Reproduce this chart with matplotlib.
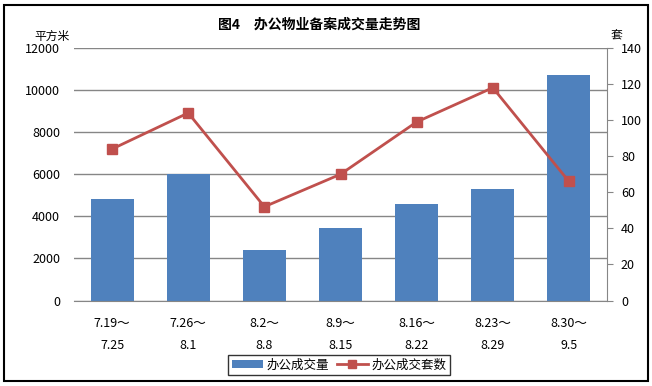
import numpy as np
import matplotlib
matplotlib.use("Agg")
from matplotlib import pyplot as plt
from matplotlib.patches import Patch, Rectangle
from matplotlib.lines import Line2D

plt.rcParams['font.family'] = ['Noto Sans CJK SC', 'DejaVu Sans']

weeks = ["7.19～\n7.25", "7.26～\n8.1", "8.2～\n8.8", "8.9～\n8.15",
         "8.16～\n8.22", "8.23～\n8.29", "8.30～\n9.5"]
area = [4830, 6000, 2380, 3450, 4600, 5300, 10700]   # 办公成交量 (平方米)
units = [84, 104, 52, 70, 99, 118, 66]               # 办公成交套数 (套)

bar_color = '#4F81BD'
line_color = '#C0504D'
grid_color = '#868686'

fig = plt.figure(figsize=(6.52, 3.86), dpi=100)
fig.patches.append(Rectangle((0.006, 0.013), 0.988, 0.975, transform=fig.transFigure,
                             fill=False, edgecolor='black', linewidth=1.5))

ax = fig.add_axes([0.1135, 0.2215, 0.8175, 0.6541])
x = np.arange(len(weeks))
ax.bar(x, area, width=0.565, color=bar_color, zorder=2)
ax.set_xlim(-0.5, len(weeks) - 0.5)
ax.set_ylim(0, 12000)
ax.set_yticks(np.arange(0, 12001, 2000))
ax.yaxis.grid(True, color=grid_color, linewidth=1)
ax.set_axisbelow(True)
for s in ['top', 'left', 'right']:
    ax.spines[s].set_visible(False)
ax.spines['bottom'].set_color(grid_color)
ax.tick_params(axis='y', length=0, pad=10, labelsize=9)
ax.set_xticks(x)
ax.set_xticklabels(weeks, fontsize=9, linespacing=1.9)
ax.tick_params(axis='x', length=0, pad=12)

ax2 = ax.twinx()
ax2.plot(x, units, color=line_color, linewidth=2, marker='s', markersize=7, zorder=3)
ax2.set_ylim(0, 140)
ax2.set_yticks(np.arange(0, 141, 20))
for s in ['top', 'left', 'bottom']:
    ax2.spines[s].set_visible(False)
ax2.spines['right'].set_color(grid_color)
ax2.tick_params(axis='y', direction='out', length=4, color=grid_color, pad=6, labelsize=9)

fig.text(0.49, 0.935, "图4　办公物业备案成交量走势图", ha='center', va='center',
         fontsize=10, fontweight='bold')
fig.text(0.079, 0.907, "平方米", ha='center', va='center', fontsize=8.5)
fig.text(0.945, 0.907, "套", ha='center', va='center', fontsize=8.5)

handles = [Patch(facecolor=bar_color),
           Line2D([0], [0], color=line_color, linewidth=2, marker='s', markersize=6)]
leg = fig.legend(handles, ["办公成交量", "办公成交套数"], loc='center',
                 bbox_to_anchor=(0.52, 0.055), ncol=2, fontsize=9, frameon=True,
                 fancybox=False, edgecolor='black', handlelength=2.5,
                 columnspacing=0.6, handletextpad=0.3, borderpad=0.3)
leg.get_frame().set_linewidth(1)

fig.savefig("out.png", dpi=100)
